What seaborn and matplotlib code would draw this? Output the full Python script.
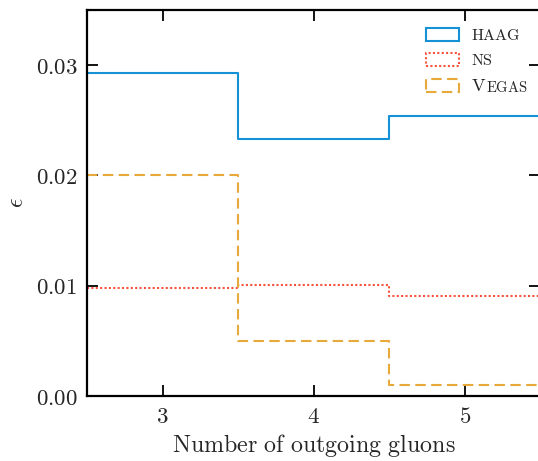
import numpy as np
import pandas as pd
import matplotlib
matplotlib.use("Agg")
import matplotlib.pyplot as plt
import seaborn as sns
from matplotlib.patches import Patch

# Data
gluons = [3, 4, 5]
bin_edges = [2.5, 3.5, 4.5, 5.5]
haag = [0.0293, 0.0233, 0.0254]
ns = [0.0098, 0.0101, 0.0091]
vegas = [0.0200, 0.0050, 0.0010]
series_names = ["HAAG", "NS", "VEGAS"]
xticks = [3, 4, 5]
yticks = [0.00, 0.01, 0.02, 0.03]

sns.set_theme(style="white")
plt.rcParams["mathtext.fontset"] = "cm"
plt.rcParams["font.family"] = ["DejaVu Serif"]

colors = ["#1591d6", "#f5523c", "#e6a93a"]
styles = ["-", (0, (1, 1.1)), (0, (5, 2.6))]

fig = plt.figure(figsize=(5.38, 4.61), dpi=100)
ax = fig.add_axes([87 / 538, 65 / 461, 453.5 / 538, 386 / 461])

df = pd.DataFrame({"x": gluons * 3,
                   "w": haag + ns + vegas,
                   "s": sum([[n] * 3 for n in series_names], [])})
for name, c, ls in zip(series_names, colors, styles):
    sub = df[df["s"] == name]
    sns.histplot(data=sub, x="x", weights="w", bins=bin_edges, element="step",
                 fill=False, color=c, linestyle=ls, linewidth=1.5, ax=ax)

ax.set_xlim(2.5, 5.5)
ax.set_ylim(0, 0.035)
ax.set_xticks(xticks)
ax.set_xticklabels([f"${t}$" for t in xticks], fontsize=16.5)
ax.set_yticks(yticks)
ax.set_yticklabels([f"${t:.2f}$" for t in yticks], fontsize=16.5)
ax.tick_params(direction="in", length=8, width=1.3, top=True, right=True,
               bottom=True, left=True, pad=7, color="black")
for sp in ax.spines.values():
    sp.set_linewidth(1.6)
    sp.set_color("black")
ax.set_xlabel(r"$\mathrm{Number\ of\ outgoing\ gluons}$", fontsize=17.3, labelpad=3)
ax.set_ylabel(r"$\epsilon$", fontsize=17, labelpad=5)

handles = [Patch(facecolor="none", edgecolor=c, linestyle=ls, linewidth=1.5)
           for c, ls in zip(colors, styles)]
labels = [r"$\mathrm{HAAG}$", r"$\mathrm{NS}$", r"$\mathrm{V}$"]
leg = ax.legend(handles, labels, loc="upper right", frameon=False, fontsize=11.5,
                handlelength=2.1, handleheight=0.8, handletextpad=0.75,
                labelspacing=0.5, borderpad=0, borderaxespad=0,
                bbox_to_anchor=(521 / 538, (461 - 27) / 461),
                bbox_transform=fig.transFigure)
vtext = leg.get_texts()[2]
vtext.set_fontsize(13)
ann = ax.annotate(r"$\mathrm{EGAS}$", xy=(1.0, 0.0), xycoords=vtext,
                  xytext=(-0.2, 0), textcoords="offset points",
                  ha="left", va="bottom", fontsize=10.5, zorder=20,
                  annotation_clip=False)

fig.savefig("out.png", dpi=100)
